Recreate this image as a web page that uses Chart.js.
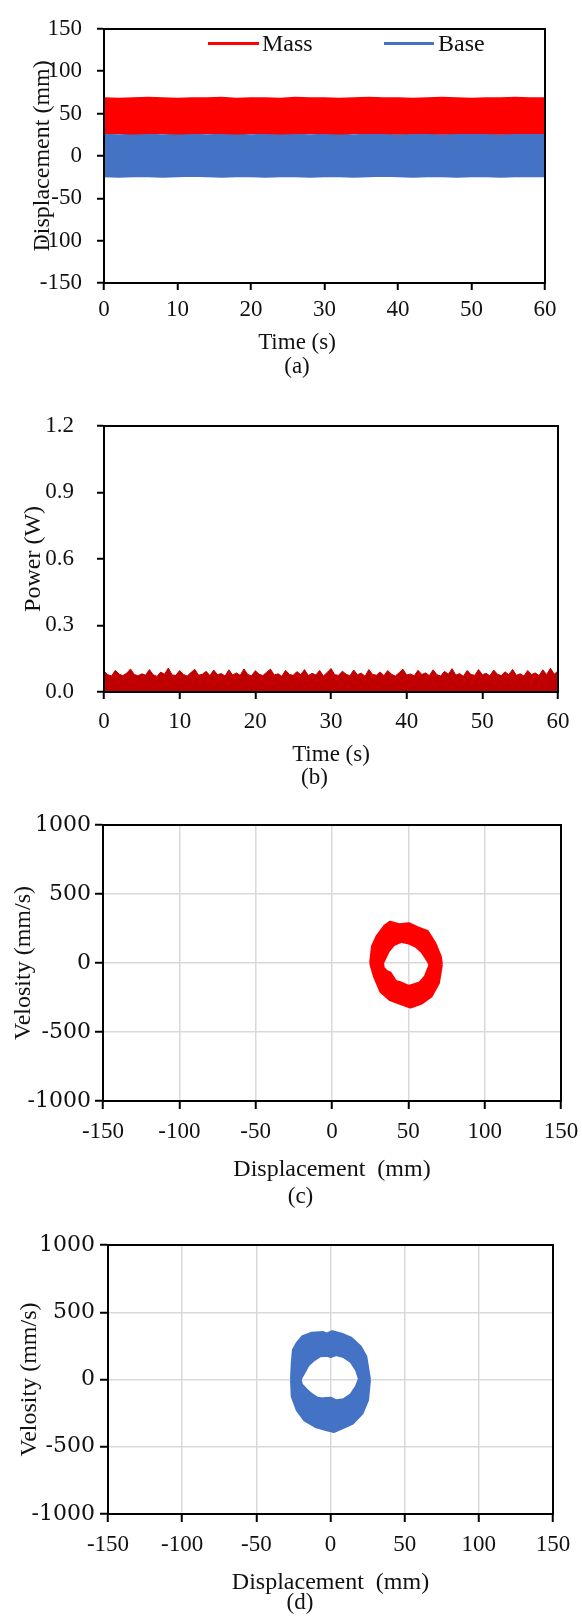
<!DOCTYPE html>
<html>
<head>
<meta charset="utf-8">
<title>Mass / Base response</title>
<script src="https://cdn.jsdelivr.net/npm/chart.js@4.4.1/dist/chart.umd.min.js"></script>
<style>
    html, body { margin: 0; padding: 0; background: #fff; width: 582px; height: 1618px; overflow: hidden; position: relative; }
    canvas { position: absolute; left: 0; }
    .legend-line { position: absolute; height: 3px; }
    .legend-text { position: absolute; font: 24px 'Liberation Serif', 'Times New Roman', serif; color: #111; line-height: 28px; }
</style>
</head>
<body>
<canvas id="chart-a" width="594" height="379" style="top:0px"></canvas>
<canvas id="chart-b" width="629" height="401" style="top:389px"></canvas>
<canvas id="chart-c" width="601" height="404" style="top:805px"></canvas>
<canvas id="chart-d" width="600" height="390" style="top:1225px"></canvas>

<!-- legend of panel (a) -->
<div class="legend-line" style="left:208px; top:42px; width:51px; background:#FF0000"></div>
<div class="legend-text" style="left:262px; top:29px">Mass</div>
<div class="legend-line" style="left:384px; top:42px; width:50px; background:#4472C4"></div>
<div class="legend-text" style="left:438px; top:29px">Base</div>

<script>
// Panel (a): displacement band envelopes (mm), read every 2 s
const timeA = [0, 2, 4, 6, 8, 10, 12, 14, 16, 18, 20, 22, 24, 26, 28, 30,
    32, 34, 36, 38, 40, 42, 44, 46, 48, 50, 52, 54, 56, 58, 60];
const massUpper = [68, 67.5, 68, 68.5, 68, 67.5, 68, 68, 68.5, 67.5, 68, 68, 67.5, 68.5, 68, 68,
    67.5, 68, 68.5, 68, 68, 67.5, 68, 68.5, 68, 67.5, 68, 68, 68.5, 68, 68];
const massLower = [27, 27, 26.5, 27, 27, 26.5, 27, 27, 27, 26.5, 27, 27, 26.5, 27, 27, 27,
    26.5, 27, 27, 27, 26.5, 27, 27, 26.5, 27, 27, 27, 26.5, 27, 27, 27];
const baseUpper = [25, 24.5, 25, 25, 24.5, 25, 25, 24.5, 25, 25, 24.5, 25, 25, 25, 24.5, 25,
    25, 24.5, 25, 25, 24.5, 25, 25, 24.5, 25, 25, 25, 24.5, 25, 25, 25];
const baseLower = [-24, -24.5, -24, -24, -24.5, -24, -23.5, -24, -24.5, -24, -24, -24.5, -24, -24, -24.5, -24,
    -24, -24.5, -24, -23.5, -24, -24.5, -24, -24, -24.5, -24, -24, -24.5, -24, -24, -24];

// Panel (b): top of the power trace (W), read every 0.5 s
const powerTime = [
    0, 0.5, 1, 1.5, 2, 2.5, 3, 3.5, 4, 4.5,
    5, 5.5, 6, 6.5, 7, 7.5, 8, 8.5, 9, 9.5,
    10, 10.5, 11, 11.5, 12, 12.5, 13, 13.5, 14, 14.5,
    15, 15.5, 16, 16.5, 17, 17.5, 18, 18.5, 19, 19.5,
    20, 20.5, 21, 21.5, 22, 22.5, 23, 23.5, 24, 24.5,
    25, 25.5, 26, 26.5, 27, 27.5, 28, 28.5, 29, 29.5,
    30, 30.5, 31, 31.5, 32, 32.5, 33, 33.5, 34, 34.5,
    35, 35.5, 36, 36.5, 37, 37.5, 38, 38.5, 39, 39.5,
    40, 40.5, 41, 41.5, 42, 42.5, 43, 43.5, 44, 44.5,
    45, 45.5, 46, 46.5, 47, 47.5, 48, 48.5, 49, 49.5,
    50, 50.5, 51, 51.5, 52, 52.5, 53, 53.5, 54, 54.5,
    55, 55.5, 56, 56.5, 57, 57.5, 58, 58.5, 59, 59.5,
    60];
const powerTop = [
    0.095, 0.078, 0.072, 0.098, 0.080, 0.074, 0.085, 0.104, 0.079, 0.073,
    0.082, 0.076, 0.101, 0.078, 0.070, 0.090, 0.080, 0.108, 0.077, 0.075,
    0.097, 0.079, 0.072, 0.088, 0.102, 0.076, 0.080, 0.093, 0.074, 0.099,
    0.078, 0.083, 0.072, 0.100, 0.077, 0.086, 0.075, 0.104, 0.079, 0.073,
    0.096, 0.080, 0.074, 0.089, 0.103, 0.077, 0.082, 0.071, 0.098, 0.079,
    0.075, 0.092, 0.078, 0.101, 0.074, 0.084, 0.077, 0.097, 0.072, 0.088,
    0.106, 0.078, 0.075, 0.094, 0.080, 0.073, 0.099, 0.078, 0.085, 0.071,
    0.101, 0.079, 0.076, 0.090, 0.074, 0.097, 0.080, 0.072, 0.087, 0.103,
    0.077, 0.081, 0.073, 0.098, 0.079, 0.086, 0.074, 0.100, 0.078, 0.072,
    0.093, 0.080, 0.105, 0.076, 0.083, 0.071, 0.097, 0.079, 0.075, 0.101,
    0.078, 0.084, 0.073, 0.099, 0.080, 0.074, 0.091, 0.078, 0.102, 0.075,
    0.082, 0.072, 0.097, 0.079, 0.086, 0.074, 0.100, 0.078, 0.107, 0.080,
    0.095];

// Panel (c): mass phase portrait, outline of the ring [displacement mm, velocity mm/s]
const massOuterTop = [[25.3, 0], [26.5, 121], [29.5, 193], [34.4, 266], [38, 295], [44, 278],
    [50.2, 285], [56.3, 254], [62.4, 229], [67.3, 145], [70.9, 48], [71.7, -10]];
const massInnerTop = [[25.3, -25], [32.5, -25], [33.1, 0], [36.8, 85], [40.4, 133], [45.3, 157],
    [50.2, 145], [55.1, 121], [58.7, 85], [62.4, 24], [64.3, -12], [65, -35], [71.7, -35]];
const massOuterBottom = [[25.3, 0], [27.8, -97], [31.9, -205], [38, -266], [44.1, -290],
    [51.4, -319], [58.7, -290], [64.8, -242], [69.7, -145], [71.7, -10]];
const massInnerBottom = [[25.3, 20], [32.5, 20], [33.1, 0], [33.6, -36], [35.6, -60], [38, -72],
    [41.6, -133], [45.3, -145], [50.2, -169], [57.5, -145], [61.2, -97], [64.3, -12], [65, 10], [71.7, 10]];

// Panel (d): base phase portrait
const baseOuterTop = [[-26.3, 0], [-25.8, 121], [-25, 220], [-22.5, 270], [-18.8, 319], [-12.5, 344],
    [-5, 349], [-2.5, 337], [1.2, 356], [7.5, 337], [13.8, 307], [20, 245], [23.8, 171], [26.3, 0]];
const baseInnerTop = [[-26.3, -25], [-21, -25], [-20.5, 0], [-17.5, 59], [-15, 109], [-11.3, 146],
    [-7, 176], [-2.5, 181], [0, 171], [3.8, 186], [8.8, 171], [13.8, 134], [17.5, 72], [19.5, 5],
    [20, -25], [26.3, -25]];
const baseOuterBottom = [[-26.3, 0], [-25.8, -126], [-22.5, -225], [-17.5, -300], [-10, -349],
    [-2.5, -374], [2.5, -386], [7.5, -361], [15, -324], [21.3, -250], [25, -151], [26.3, 0]];
const baseInnerBottom = [[-26.3, 25], [-21, 25], [-20.5, 0], [-19.5, -40], [-16.3, -77], [-12.5, -114],
    [-8.8, -139], [-5, -144], [0, -139], [3.8, -158], [8.8, -151], [13.8, -114], [17.5, -52],
    [19.5, 5], [20, 25], [26.3, 25]];

const FONT = "'Liberation Serif', 'Times New Roman', serif";
const WIDE_FONT = "'DejaVu Serif', serif";
Chart.defaults.font.family = FONT;
Chart.defaults.font.size = 23;
Chart.defaults.color = '#111';

function xy(xs, ys) {
    return xs.map((x, i) => ({ x: x, y: ys[i] }));
}

function pts(list) {
    return list.map(p => ({ x: p[0], y: p[1] }));
}

function band(data, color, fill, width) {
    return {
        data: data,
        borderColor: color,
        backgroundColor: color,
        borderWidth: width || 2,
        borderJoinStyle: 'round',
        pointRadius: 0,
        tension: 0,
        fill: fill
    };
}

// axes with no labels, only used for the top / right side of the frame
function frameAxis(position, size) {
    return {
        type: 'linear',
        position: position,
        min: 0,
        max: 1,
        ticks: { display: false },
        grid: { display: false },
        border: { display: true, color: '#000', width: 2, z: 1 },
        afterFit: function(scale) {
            if (position === 'top') scale.height = size; else scale.width = size;
        }
    };
}

function makePanel(id, p) {
    return new Chart(document.getElementById(id), {
        type: 'line',
        data: { datasets: p.datasets },
        options: {
            responsive: false,
            animation: false,
            events: [],
            layout: { padding: { top: p.padTop, left: 0, right: 0, bottom: 0 } },
            plugins: {
                legend: { display: false },
                tooltip: { enabled: false },
                title: {
                    display: true,
                    position: 'bottom',
                    text: p.caption,
                    color: '#111',
                    padding: 0,
                    font: { size: 23, weight: 'normal', lineHeight: 24 / 23 }
                }
            },
            scales: {
                x: {
                    type: 'linear',
                    min: p.xMin,
                    max: p.xMax,
                    ticks: { stepSize: p.xStep, padding: p.xTickPad, maxRotation: 0, autoSkip: false,
                        callback: v => String(v) },
                    grid: { drawOnChartArea: p.grid, color: '#d9d9d9', lineWidth: 1.5,
                        tickColor: '#000', tickWidth: 2, tickLength: p.tickLen },
                    border: { display: true, color: '#000', width: 2, z: 1 },
                    title: {
                        display: !!p.xTitle,
                        text: p.xTitle,
                        padding: { top: 0, bottom: p.xTitlePad },
                        font: { size: p.xTitleSize || 23, lineHeight: 1 }
                    },
                    afterFit: function(scale) { scale.height = p.xHeight; }
                },
                y: {
                    type: 'linear',
                    min: p.yMin,
                    max: p.yMax,
                    ticks: { stepSize: p.yStep, padding: p.yTickPad, callback: p.yFormat,
                        font: p.yTickFont || {} },
                    grid: { drawOnChartArea: p.grid, color: '#d9d9d9', lineWidth: 1.5,
                        tickColor: '#000', tickWidth: 2, tickLength: p.tickLen },
                    border: { display: true, color: '#000', width: 2, z: 1 },
                    title: {
                        display: true,
                        text: p.yTitle,
                        padding: { top: p.yTitlePad, bottom: 0 },
                        font: { size: 24, lineHeight: 1 }
                    },
                    afterFit: function(scale) { scale.width = p.yWidth; }
                },
                xTop: frameAxis('top', 0),
                yRight: frameAxis('right', p.rightWidth)
            }
        }
    });
}

document.addEventListener('DOMContentLoaded', function() {
    // (a) displacement vs time
    makePanel('chart-a', {
        datasets: [
            band(xy(timeA, massUpper), '#FF0000', '+1'),
            band(xy(timeA, massLower), '#FF0000', false),
            band(xy(timeA, baseUpper), '#4472C4', '+1'),
            band(xy(timeA, baseLower), '#4472C4', false)
        ],
        padTop: 15, rightWidth: 49,
        xMin: 0, xMax: 60, xStep: 10,
        yMin: -150, yMax: 150, yStep: 50, yFormat: v => String(v),
        grid: false, tickLen: 7, xTickPad: 6.2, yTickPad: 15,
        xTitle: '', xTitlePad: 0, xHeight: 48,
        yTitle: 'Displacement (mm)', yTitlePad: 30.7, yWidth: 104,
        caption: ['Time (s)', '(a)']
    });

    // (b) power vs time
    makePanel('chart-b', {
        datasets: [
            band(xy(powerTime, powerTop), '#C00000', 'origin', 1)
        ],
        padTop: 20, rightWidth: 71,
        xMin: 0, xMax: 60, xStep: 10,
        yMin: 0, yMax: 1.2, yStep: 0.3, yFormat: v => Number(v).toFixed(1),
        grid: false, tickLen: 7, xTickPad: 9.2, yTickPad: 23,
        xTitle: 'Time (s)', xTitlePad: -0.5, xHeight: 74,
        yTitle: 'Power (W)', yTitlePad: 21.4, yWidth: 104,
        caption: '(b)'
    });

    // (c) phase portrait of the mass
    makePanel('chart-c', {
        datasets: [
            band(pts(massOuterTop), '#FF0000', '+1', 3),
            band(pts(massInnerTop), '#FF0000', false, 3),
            band(pts(massOuterBottom), '#FF0000', '+1', 3),
            band(pts(massInnerBottom), '#FF0000', false, 3)
        ],
        padTop: 20, rightWidth: 40,
        xMin: -150, xMax: 150, xStep: 50,
        yMin: -1000, yMax: 1000, yStep: 500, yFormat: v => String(v),
        yTickFont: { family: WIDE_FONT, size: 22 },
        grid: true, tickLen: 8, xTickPad: 9.2, yTickPad: 4,
        xTitle: 'Displacement  (mm)', xTitleSize: 24, xTitlePad: 3, xHeight: 84,
        yTitle: 'Velosity (mm/s)', yTitlePad: 12, yWidth: 103,
        caption: '(c)'
    });

    // (d) phase portrait of the base
    makePanel('chart-d', {
        datasets: [
            band(pts(baseOuterTop), '#4472C4', '+1', 3),
            band(pts(baseInnerTop), '#4472C4', false, 3),
            band(pts(baseOuterBottom), '#4472C4', '+1', 3),
            band(pts(baseInnerBottom), '#4472C4', false, 3)
        ],
        padTop: 20, rightWidth: 47,
        xMin: -150, xMax: 150, xStep: 50,
        yMin: -1000, yMax: 1000, yStep: 500, yFormat: v => String(v),
        yTickFont: { family: WIDE_FONT, size: 22 },
        grid: true, tickLen: 8, xTickPad: 9.2, yTickPad: 5,
        xTitle: 'Displacement  (mm)', xTitleSize: 24, xTitlePad: -4, xHeight: 77,
        yTitle: 'Velosity (mm/s)', yTitlePad: 17.7, yWidth: 108,
        caption: '(d)'
    });
});
</script>
</body>
</html>
